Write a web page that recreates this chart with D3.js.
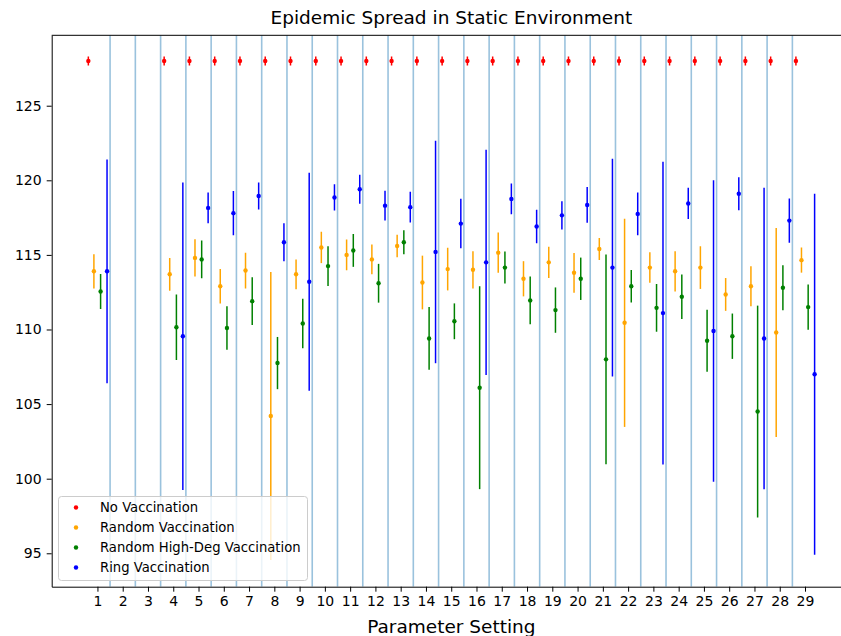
<!DOCTYPE html>
<html>
<head>
<meta charset="utf-8">
<script src="https://cdn.jsdelivr.net/npm/d3@7"></script>
<style>
  body { margin: 0; background: #fff; }
  svg { display: block; font-family: "DejaVu Sans", sans-serif; }
</style>
</head>
<body>
<svg id="chart" width="841" height="636"></svg>
<script>
// Parameter settings 1..29 (settings 2 and 3 have no results)
const settings = d3.range(1, 30);
const yTickValues = [95, 100, 105, 110, 115, 120, 125];

const noVaccMean = [128, null, null, 128, 128, 128, 128, 128, 128, 128, 128, 128, 128, 128, 128,
  128, 128, 128, 128, 128, 128, 128, 128, 128, 128, 128, 128, 128, 128];
const noVaccErr = [0.3, null, null, 0.3, 0.3, 0.3, 0.3, 0.3, 0.3, 0.3, 0.3, 0.3, 0.3, 0.3, 0.3,
  0.3, 0.3, 0.3, 0.3, 0.3, 0.3, 0.3, 0.3, 0.3, 0.3, 0.3, 0.3, 0.3, 0.3];

const randomMean = [113.9, null, null, 113.7, 114.8, 112.9, 113.95, 104.2, 113.7, 115.5, 115.0,
  114.7, 115.6, 113.15, 114.05, 114.0, 115.15, 113.4, 114.5, 113.8, 115.4, 110.45, 114.15, 113.9,
  114.15, 112.35, 112.9, 109.8, 114.65];
const randomErr = [1.15, null, null, 1.1, 1.25, 1.15, 1.2, 9.65, 1.0, 1.05, 1.03, 1.0, 0.75, 1.8,
  1.43, 1.25, 1.35, 1.18, 1.05, 1.33, 0.74, 6.98, 1.02, 1.35, 1.43, 1.1, 1.34, 7.0, 0.84];

const highDegMean = [112.55, null, null, 110.15, 114.7, 110.1, 111.9, 107.75, 110.4, 114.25, 115.3,
  113.1, 115.85, 109.4, 110.55, 106.1, 114.15, 111.95, 111.3, 113.4, 108.0, 112.9, 111.45, 112.2,
  109.25, 109.55, 104.5, 112.8, 111.5];
const highDegErr = [1.17, null, null, 2.2, 1.27, 1.46, 1.6, 1.75, 1.66, 1.33, 1.1, 1.3, 0.8, 2.1,
  1.2, 6.8, 1.07, 1.6, 1.52, 1.42, 7.03, 1.09, 1.6, 1.49, 2.08, 1.52, 7.1, 1.51, 1.52];

const ringMean = [113.9, null, null, 109.55, 118.15, 117.8, 118.95, 115.85, 113.2, 118.85, 119.4,
  118.3, 118.2, 115.2, 117.1, 114.5, 118.75, 116.9, 117.65, 118.35, 114.15, 117.75, 111.1, 118.45,
  109.9, 119.1, 109.4, 117.3, 107.0];
const ringErr = [7.5, null, null, 10.3, 1.03, 1.48, 0.9, 1.28, 7.3, 0.88, 0.97, 1.0, 1.03, 7.46,
  1.66, 7.55, 1.03, 1.12, 0.95, 1.2, 7.3, 1.44, 10.15, 1.05, 10.1, 1.1, 10.1, 1.48, 12.1];

const seriesNames = ["No Vaccination", "Random Vaccination", "Random High-Deg Vaccination", "Ring Vaccination"];
const seriesColors = ["red", "orange", "green", "blue"];
const seriesOffsets = [-0.36, -0.14, 0.125, 0.38];
const series = [
  { mean: noVaccMean, err: noVaccErr },
  { mean: randomMean, err: randomErr },
  { mean: highDegMean, err: highDegErr },
  { mean: ringMean, err: ringErr }
];

const svg = d3.select("#chart");
const plot = { left: 51.7, top: 35.3, right: 851, bottom: 586.7 };

const x = d3.scaleLinear().domain([-0.81, 30.82]).range([plot.left, plot.right]);
const y = d3.scaleLinear().domain([92.76, 129.72]).range([plot.bottom, plot.top]);

svg.append("defs").append("clipPath").attr("id", "plot-clip")
  .append("rect")
  .attr("x", plot.left).attr("y", plot.top)
  .attr("width", plot.right - plot.left).attr("height", plot.bottom - plot.top);

const body = svg.append("g").attr("clip-path", "url(#plot-clip)");

// separators between parameter settings
const separators = settings.slice(0, -1).map(s => s + 0.5);
body.append("g").selectAll("line").data(separators).join("line")
  .attr("x1", d => x(d)).attr("x2", d => x(d))
  .attr("y1", plot.top).attr("y2", plot.bottom)
  .attr("stroke", "#1f77b4").attr("stroke-opacity", 0.45).attr("stroke-width", 1.6);

// error bars with mean markers
series.forEach((s, k) => {
  const pts = settings.map((setting, i) => ({ setting, mean: s.mean[i], err: s.err[i] }))
    .filter(d => d.mean != null);
  const g = body.append("g");
  g.selectAll("line").data(pts).join("line")
    .attr("x1", d => x(d.setting + seriesOffsets[k]))
    .attr("x2", d => x(d.setting + seriesOffsets[k]))
    .attr("y1", d => y(d.mean - d.err))
    .attr("y2", d => y(d.mean + d.err))
    .attr("stroke", seriesColors[k]).attr("stroke-width", 1.5);
  g.selectAll("circle").data(pts).join("circle")
    .attr("cx", d => x(d.setting + seriesOffsets[k]))
    .attr("cy", d => y(d.mean))
    .attr("r", 2.2)
    .attr("fill", seriesColors[k]);
});

// axes
const xAxis = d3.axisBottom(x).tickValues(settings).tickFormat(d3.format("d"))
  .tickSize(5).tickSizeOuter(0).tickPadding(4);
const gx = svg.append("g").attr("transform", `translate(0,${plot.bottom})`).call(xAxis);
gx.selectAll("text").attr("font-size", 14).attr("fill", "#000").attr("font-family", "DejaVu Sans");
gx.select(".domain").attr("stroke", "#000");

const yAxis = d3.axisLeft(y).tickValues(yTickValues).tickSize(5).tickSizeOuter(0).tickPadding(5);
const gy = svg.append("g").attr("transform", `translate(${plot.left},0)`).call(yAxis);
gy.selectAll("text").attr("font-size", 14).attr("fill", "#000").attr("font-family", "DejaVu Sans");
gy.select(".domain").attr("stroke", "#000");

// top spine
svg.append("line")
  .attr("x1", plot.left).attr("x2", plot.right)
  .attr("y1", plot.top).attr("y2", plot.top)
  .attr("stroke", "#000").attr("stroke-width", 1);

// title and axis label
const midX = (plot.left + plot.right) / 2;
svg.append("text").attr("x", midX).attr("y", 24)
  .attr("text-anchor", "middle").attr("font-size", 18.5).attr("fill", "#000")
  .text("Epidemic Spread in Static Environment");
svg.append("text").attr("x", midX).attr("y", 633)
  .attr("text-anchor", "middle").attr("font-size", 18.5).attr("fill", "#000")
  .text("Parameter Setting");

// legend
const legend = svg.append("g").attr("transform", "translate(58.5,496.5)");
legend.append("rect")
  .attr("width", 249).attr("height", 84).attr("rx", 3)
  .attr("fill", "#fff").attr("fill-opacity", 0.8)
  .attr("stroke", "#cccccc").attr("stroke-width", 1);
const rows = legend.selectAll("g.row").data(seriesNames).join("g")
  .attr("class", "row")
  .attr("transform", (d, i) => `translate(0,${11 + i * 20})`);
rows.append("circle").attr("cx", 17.5).attr("cy", 0).attr("r", 2.2)
  .attr("fill", (d, i) => seriesColors[i]);
rows.append("text").attr("x", 41.5).attr("y", 0).attr("dy", "0.35em")
  .attr("font-size", 13.2).attr("fill", "#000").text(d => d);
</script>
</body>
</html>
